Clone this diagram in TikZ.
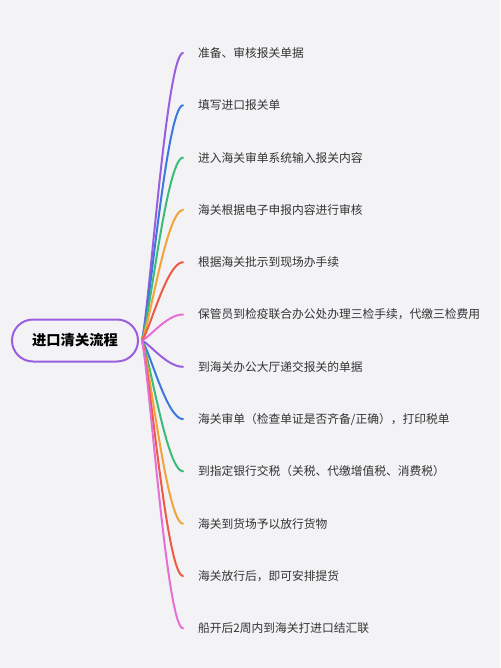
\documentclass[tikz,border=0pt]{standalone}
\usepackage{fontspec}
\setmainfont{Noto Sans CJK SC}
\definecolor{bg}{HTML}{F3F3F6}
\definecolor{cpu}{HTML}{9A5FE0}
\definecolor{cbl}{HTML}{3D78DD}
\definecolor{cgr}{HTML}{3DBB79}
\definecolor{cor}{HTML}{F2A33A}
\definecolor{cre}{HTML}{EE5A45}
\definecolor{cpk}{HTML}{E56FD6}
\definecolor{txt}{HTML}{333333}
\tikzset{
  rootbox/.style={draw=cpu, line width=2pt, rounded corners=21pt, minimum width=126pt, minimum height=42pt, inner sep=0pt, text=black, font=\fontsize{14.3}{16}\selectfont\bfseries},
  item/.style={anchor=west, inner sep=0pt, text=txt, font=\fontsize{11.75}{14}\selectfont},
  branch/.style={line width=2pt, line cap=round}
}
\begin{document}
\begin{tikzpicture}[x=1pt,y=-1pt]
\fill[bg] (0,0) rectangle (500,668);
\useasboundingbox (0,0) rectangle (500,668);
\node[rootbox] (root) at (75,340.5) {进口清关流程};
\coordinate (j) at (142,340.5);
\foreach \i/\col in {1/cpu,2/cbl,3/cgr,4/cor,5/cre,6/cpk,7/cpu,8/cbl,9/cgr,10/cor,11/cre,12/cpk} {
  \pgfmathsetmacro\yy{53+(\i-1)*52.3}
  \pgfmathsetmacro\yc{340.5+(\yy-340.5)*0.14}
  \coordinate (e\i) at (183,\yy);
  \draw[branch,\col] (j) .. controls (150,\yc) and (167,\yy) .. (e\i);
}
\node[item] (t1) at ([xshift=15pt]e1) {准备、审核报关单据};
\node[item] (t2) at ([xshift=15pt]e2) {填写进口报关单};
\node[item] (t3) at ([xshift=15pt]e3) {进入海关审单系统输入报关内容};
\node[item] (t4) at ([xshift=15pt]e4) {海关根据电子申报内容进行审核};
\node[item] (t5) at ([xshift=15pt]e5) {根据海关批示到现场办手续};
\node[item] (t6) at ([xshift=15pt]e6) {保管员到检疫联合办公处办理三检手续，代缴三检费用};
\node[item] (t7) at ([xshift=15pt]e7) {到海关办公大厅递交报关的单据};
\node[item] (t8) at ([xshift=15pt]e8) {海关审单（检查单证是否齐备/正确），打印税单};
\node[item] (t9) at ([xshift=15pt]e9) {到指定银行交税（关税、代缴增值税、消费税）};
\node[item] (t10) at ([xshift=15pt]e10) {海关到货场予以放行货物};
\node[item] (t11) at ([xshift=15pt]e11) {海关放行后，即可安排提货};
\node[item] (t12) at ([xshift=15pt]e12) {船开后2周内到海关打进口结汇联};
\end{tikzpicture}
\end{document}
